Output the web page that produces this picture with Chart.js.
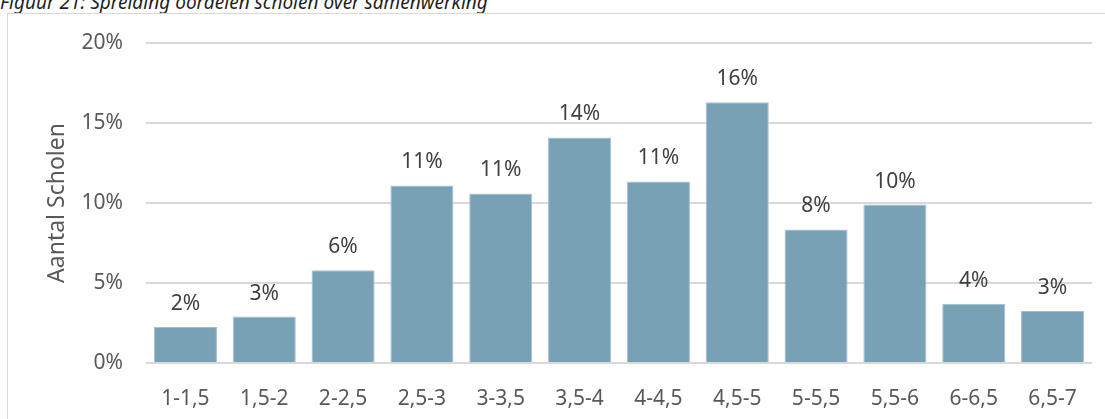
<!DOCTYPE html>
<html>
<head>
<meta charset="utf-8">
<script src="https://cdn.jsdelivr.net/npm/chart.js@4/dist/chart.umd.min.js"></script>
<style>
  html, body { margin: 0; padding: 0; background: #fff; overflow: hidden; }
  body { width: 1105px; height: 419px; position: relative; }
  #caption {
    position: absolute; left: 0; top: -11px;
    font: italic 19px "Noto Sans", sans-serif; color: #1f1f1f;
    white-space: nowrap;
  }
  #frame {
    position: absolute; left: 7px; top: 13px; width: 1120px; height: 440px;
    border: 1px solid #d9d9d9; box-sizing: border-box;
  }
  #wrap { position: absolute; left: 0; top: 0; width: 1105px; height: 419px; }
</style>
</head>
<body>
<div id="caption">Figuur 21: Spreiding oordelen scholen over samenwerking</div>
<div id="frame"></div>
<div id="wrap"><canvas id="chart" width="1105" height="419"></canvas></div>
<script>
var categories = ["1-1,5", "1,5-2", "2-2,5", "2,5-3", "3-3,5", "3,5-4", "4-4,5", "4,5-5", "5-5,5", "5,5-6", "6-6,5", "6,5-7"];
var shares = [2.25, 2.9, 5.8, 11.1, 10.6, 14.1, 11.35, 16.3, 8.35, 9.9, 3.7, 3.25]; // percent of schools
var yTicks = [0, 5, 10, 15, 20];

var textColor = "#595959";
var fontFamily = "'Noto Sans', sans-serif";

// labels above every bar, rounded to whole percents
var barLabels = {
  id: "barLabels",
  afterDatasetsDraw: function(chart) {
    var ctx = chart.ctx;
    var meta = chart.getDatasetMeta(0);
    ctx.save();
    ctx.font = "21px " + fontFamily;
    ctx.fillStyle = "#404040";
    ctx.textAlign = "center";
    ctx.textBaseline = "alphabetic";
    meta.data.forEach(function(bar, i) {
      ctx.fillText(Math.round(shares[i]) + "%", bar.x, bar.y - 17);
    });
    ctx.restore();
  }
};

new Chart(document.getElementById("chart"), {
  type: "bar",
  data: {
    labels: categories,
    datasets: [{
      data: shares,
      backgroundColor: "#78a1b5",
      borderColor: "#a6c1ce",
      borderWidth: 1,
      barPercentage: 0.8,
      categoryPercentage: 1.0
    }]
  },
  options: {
    responsive: false,
    animation: false,
    devicePixelRatio: 1,
    layout: { padding: { left: 0, top: 43, right: 13, bottom: 0 } },
    plugins: { legend: { display: false }, tooltip: { enabled: false } },
    scales: {
      x: {
        grid: { display: false },
        border: { display: false },
        ticks: { color: textColor, font: { family: fontFamily, size: 21 }, padding: 15, maxRotation: 0 },
        afterFit: function(scale) { scale.height = 56; }
      },
      y: {
        min: 0,
        max: 20,
        afterBuildTicks: function(scale) {
          scale.ticks = yTicks.map(function(v) { return { value: v }; });
        },
        grid: { color: "#d9d9d9", lineWidth: 2, drawTicks: false },
        border: { display: false },
        ticks: {
          color: textColor,
          font: { family: fontFamily, size: 21 },
          padding: 23,
          callback: function(v) { return v + "%"; }
        },
        title: {
          display: true,
          text: "Aantal Scholen",
          color: textColor,
          font: { family: fontFamily, size: 23 },
          padding: { top: 44, bottom: 0 }
        },
        afterFit: function(scale) { scale.width = 146; }
      }
    }
  },
  plugins: [barLabels]
});
</script>
</body>
</html>
